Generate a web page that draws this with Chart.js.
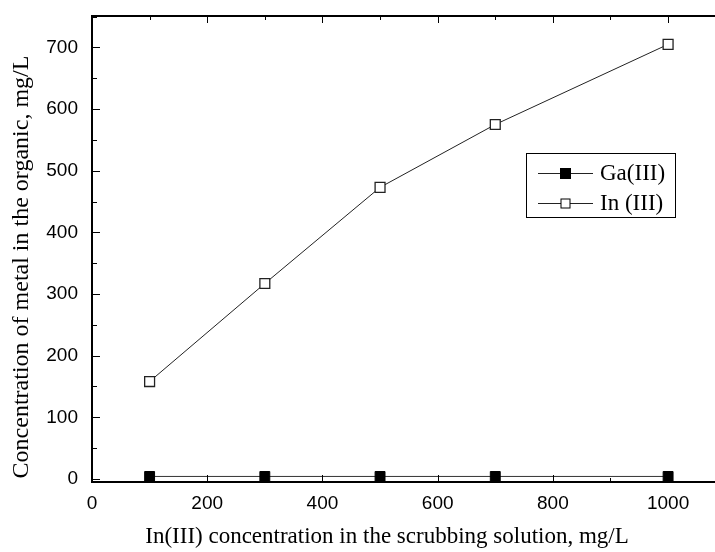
<!DOCTYPE html>
<html>
<head>
<meta charset="utf-8">
<script src="https://cdn.jsdelivr.net/npm/chart.js@4"></script>
<style>
  html, body { margin: 0; padding: 0; background: #fff; }
  #wrap { width: 715px; height: 552px; }
</style>
</head>
<body>
<div id="wrap"><canvas id="chart" width="715" height="552"></canvas></div>
<script>
// data
const scrubConc = [100, 300, 500, 700, 1000];
const gaValues = [4, 4, 4, 4, 4];
const inValues = [158, 317, 473, 575, 705];
const seriesNames = ['Ga(III)', 'In (III)'];
const xTickLabels = [0, 200, 400, 600, 800, 1000];
const yTickLabels = [0, 100, 200, 300, 400, 500, 600, 700];
const xTitle = 'In(III) concentration in the scrubbing solution, mg/L';
const yTitle = 'Concentration of metal in the organic, mg/L';

const INK = '#000';
const SERIF = '"Liberation Serif", "Times New Roman", serif';
const SANS = '"Liberation Sans", Arial, sans-serif';

// inward ticks, top border, in-plot legend and axis titles
const frame = {
  id: 'frame',
  afterDraw(chart) {
    const ctx = chart.ctx;
    const a = chart.chartArea;
    const xs = chart.scales.x, ys = chart.scales.y;
    ctx.save();
    ctx.strokeStyle = INK;
    ctx.lineWidth = 2;
    ctx.beginPath();
    ctx.moveTo(a.left - 1, a.top);
    ctx.lineTo(chart.width, a.top);
    ctx.moveTo(a.left, a.bottom);
    ctx.lineTo(chart.width, a.bottom);
    ctx.stroke();

    ctx.lineWidth = 1;
    for (let v = 0; v <= 1100; v += 100) {
      const px = Math.round(xs.getPixelForValue(v)) + 0.5;
      if (px > chart.width) break;
      const len = v % 200 === 0 ? 7 : 4;
      ctx.beginPath();
      ctx.moveTo(px, a.bottom);
      ctx.lineTo(px, a.bottom - len);
      ctx.moveTo(px, a.top);
      ctx.lineTo(px, a.top + len);
      ctx.stroke();
    }
    for (let v = 0; v <= 750; v += 50) {
      const py = Math.round(ys.getPixelForValue(v)) + 0.5;
      const len = v % 100 === 0 ? 8 : 5;
      ctx.beginPath();
      ctx.moveTo(a.left, py);
      ctx.lineTo(a.left + len, py);
      ctx.stroke();
    }

    // legend box
    ctx.strokeRect(526.5, 153.5, 149, 64);
    ctx.font = '23px ' + SERIF;
    ctx.textBaseline = 'middle';
    chart.data.datasets.forEach((ds, i) => {
      const y = 173 + i * 30;
      const sz = i === 0 ? 10 : 9;
      ctx.strokeStyle = '#222';
      ctx.lineWidth = 1;
      ctx.beginPath();
      ctx.moveTo(538, y + 0.5);
      ctx.lineTo(593, y + 0.5);
      ctx.stroke();
      ctx.fillStyle = ds.pointBackgroundColor;
      ctx.fillRect(565.5 - sz / 2, y + 0.5 - sz / 2, sz, sz);
      ctx.strokeStyle = INK;
      ctx.strokeRect(565.5 - sz / 2, y + 0.5 - sz / 2, sz, sz);
      ctx.fillStyle = INK;
      ctx.fillText(ds.label, 600, y + 1);
    });

    // axis titles
    ctx.fillStyle = INK;
    ctx.textAlign = 'center';
    ctx.textBaseline = 'middle';
    ctx.font = '23px ' + SERIF;
    ctx.fillText(xTitle, 387, 537);
    ctx.font = '24px ' + SERIF;
    ctx.translate(22, 267);
    ctx.rotate(-Math.PI / 2);
    ctx.fillText(yTitle, 0, 0);
    ctx.restore();
  }
};

new Chart(document.getElementById('chart'), {
  type: 'line',
  data: {
    datasets: [
      {
        label: seriesNames[0],
        data: scrubConc.map((x, i) => ({ x: x, y: gaValues[i] })),
        borderColor: '#333',
        borderWidth: 1,
        pointStyle: 'rect',
        pointRadius: 7,
        pointBackgroundColor: '#000',
        pointBorderColor: '#000',
        pointBorderWidth: 1,
        tension: 0
      },
      {
        label: seriesNames[1],
        data: scrubConc.map((x, i) => ({ x: x, y: inValues[i] })),
        borderColor: '#222',
        borderWidth: 1,
        pointStyle: 'rect',
        pointRadius: 7,
        pointBackgroundColor: '#fff',
        pointBorderColor: '#222',
        pointBorderWidth: 1.3,
        tension: 0
      }
    ]
  },
  options: {
    responsive: false,
    animation: false,
    layout: { padding: { top: 16, right: 0, left: 0, bottom: 0 } },
    plugins: {
      legend: { display: false },
      tooltip: { enabled: false }
    },
    scales: {
      x: {
        type: 'linear',
        min: 0,
        max: 1067,
        afterFit: s => { s.height = 70; s.paddingRight = 0; s.paddingLeft = 0; },
        afterBuildTicks: s => { s.ticks = xTickLabels.map(v => ({ value: v })); },
        grid: { display: false },
        border: { display: true, color: INK, width: 2 },
        ticks: {
          padding: 2,
          autoSkip: false,
          color: INK,
          font: { family: SANS, size: 19 },
          maxRotation: 0,
          callback: v => String(v)
        }
      },
      y: {
        type: 'linear',
        min: -5,
        max: 751,
        afterFit: s => { s.width = 92; s.paddingTop = 0; s.paddingBottom = 0; },
        afterBuildTicks: s => { s.ticks = yTickLabels.map(v => ({ value: v })); },
        grid: { display: false },
        border: { display: true, color: INK, width: 2 },
        ticks: {
          padding: 6,
          color: INK,
          font: { family: SANS, size: 19 },
          callback: v => String(v)
        }
      }
    }
  },
  plugins: [frame]
});
</script>
</body>
</html>
